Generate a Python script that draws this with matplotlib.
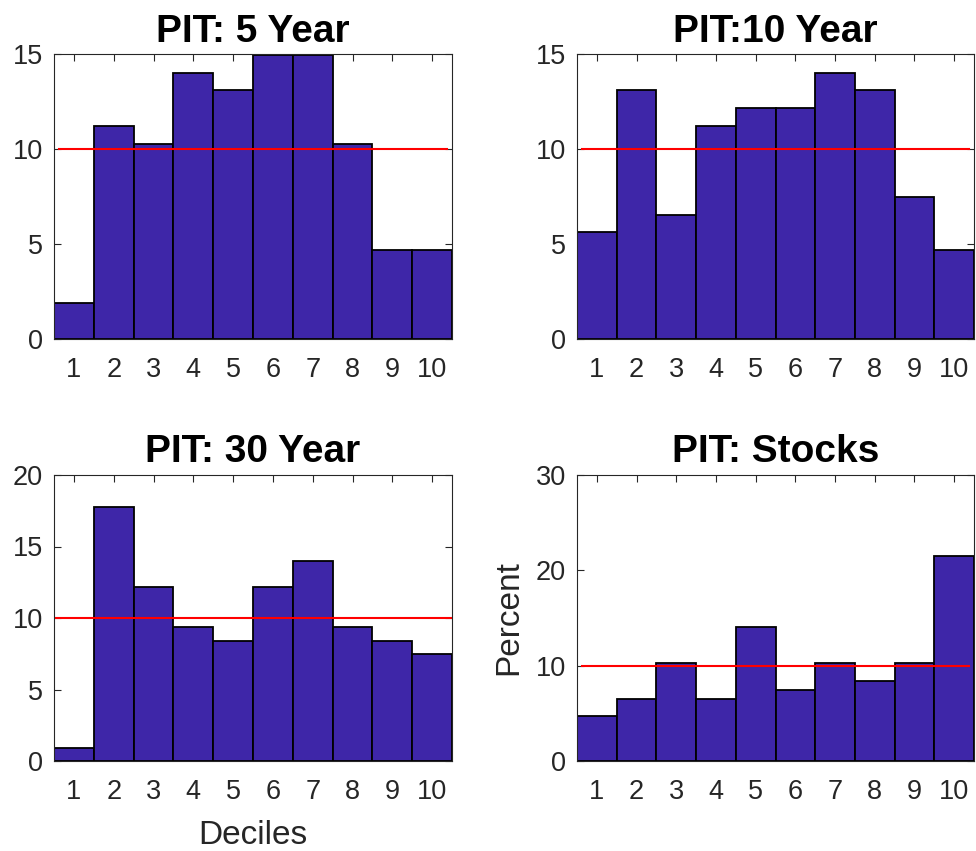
import numpy as np
import matplotlib
matplotlib.use("Agg")
import matplotlib.pyplot as plt

plt.rcParams['font.family'] = ['Liberation Sans', 'DejaVu Sans']

# PIT histograms, percent per decile
deciles = np.arange(1, 11)
pit_5y = [1.87, 11.21, 10.28, 14.02, 13.08, 14.95, 14.95, 10.28, 4.67, 4.67]
pit_10y = [5.61, 13.08, 6.54, 11.21, 12.15, 12.15, 14.02, 13.08, 7.48, 4.67]
pit_30y = [0.93, 17.76, 12.15, 9.35, 8.41, 12.15, 14.02, 9.35, 8.41, 7.48]
pit_stocks = [4.67, 6.54, 10.28, 6.54, 14.02, 7.48, 10.28, 8.41, 10.28, 21.50]

titles = ["PIT: 5 Year", "PIT:10 Year", "PIT: 30 Year", "PIT: Stocks"]
series = [pit_5y, pit_10y, pit_30y, pit_stocks]
ymax = [15, 15, 20, 30]
ystep = [5, 5, 5, 10]
# where the uniform 10% reference line runs
ref_span = [(0.625, 10.375), (0.625, 10.375), (0.5, 10.5), (0.625, 10.375)]

W, H = 976, 851
fig = plt.figure(figsize=(W / 100, H / 100), dpi=100)

# axes boxes in pixels: left, top, right, bottom
boxes = [(54, 54, 452, 339), (577, 54, 974, 339),
         (54, 475, 452, 761), (577, 475, 974, 761)]

bar_color = '#3E26A8'
axis_color = '#262626'

for i, (l, t, r, b) in enumerate(boxes):
    ax = fig.add_axes([l / W, (H - b) / H, (r - l) / W, (b - t) / H])
    ax.bar(deciles, series[i], width=1.0, color=bar_color,
           edgecolor='black', linewidth=1.3, zorder=2)
    x0, x1 = ref_span[i]
    ax.plot([x0, x1], [10, 10], color='#FF0000', linewidth=1.5, zorder=3)

    ax.set_xlim(0.5, 10.5)
    ax.set_ylim(0, ymax[i])
    ax.set_xticks(deciles)
    ax.set_yticks(np.arange(0, ymax[i] + 1, ystep[i]))
    ax.tick_params(direction='in', top=True, right=True, length=5,
                   width=0.8, labelsize=19.5, colors=axis_color,
                   labelcolor=axis_color)
    ax.tick_params(axis='x', pad=13)
    ax.tick_params(axis='y', pad=8)
    for s in ax.spines.values():
        s.set_color(axis_color)
        s.set_linewidth(0.8)
        s.set_zorder(4)
    ax.set_title(titles[i], fontsize=28, fontweight='bold', pad=9)

    if i == 2:
        ax.set_xlabel("Deciles", fontsize=24, color=axis_color, labelpad=11)
    if i == 3:
        ax.set_ylabel("Percent", fontsize=24, color=axis_color, labelpad=8)

fig.savefig("out.png", dpi=100)
